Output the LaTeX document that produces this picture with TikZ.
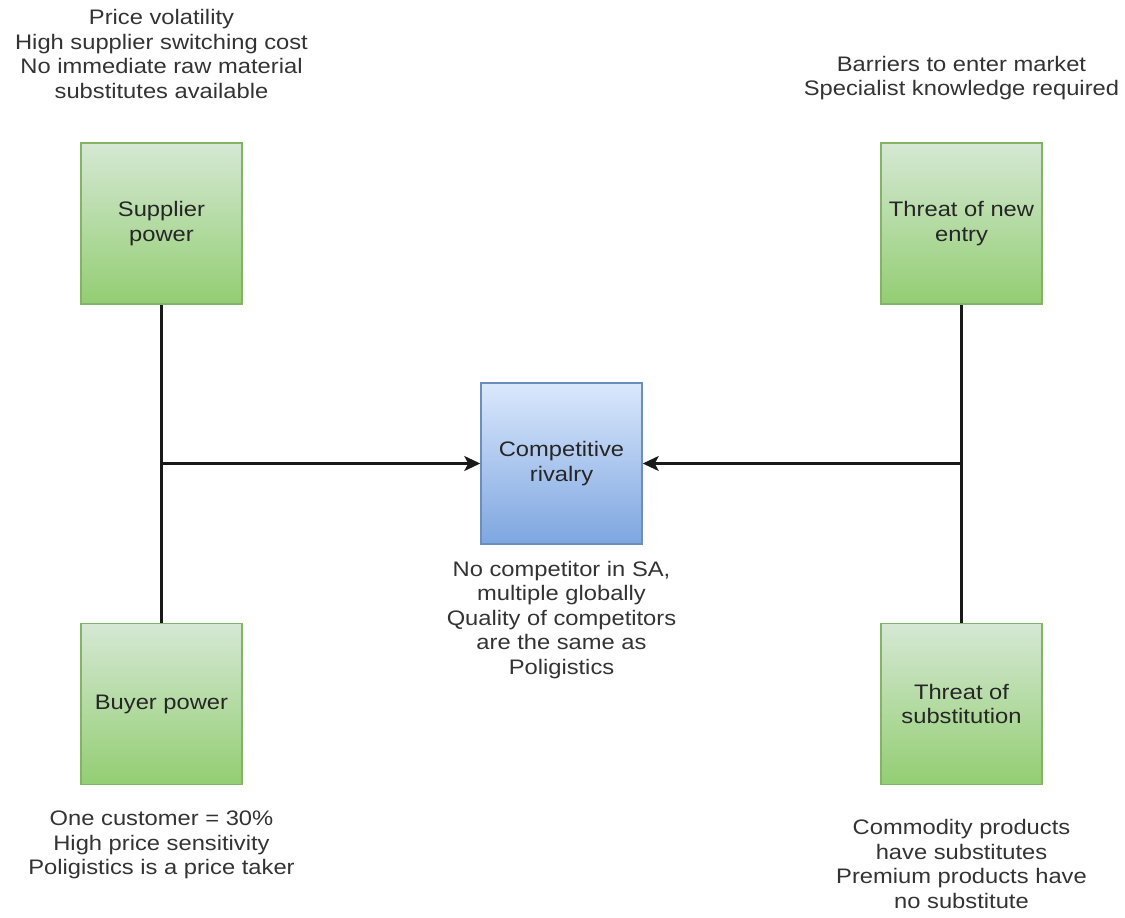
\documentclass[tikz,border=0pt]{standalone}
\usepackage{fontspec}
\setmainfont{Liberation Sans}[FakeStretch=1.13]
\usetikzlibrary{arrows.meta}

\definecolor{greentop}{HTML}{D5E8D4}
\definecolor{greenbot}{HTML}{93CE72}
\definecolor{greenline}{HTML}{82B366}
\definecolor{bluetop}{HTML}{DAE8FC}
\definecolor{bluebot}{HTML}{7EA6E0}
\definecolor{blueline}{HTML}{6C8EBF}
\definecolor{textgrey}{HTML}{333333}

\tikzset{
  basefont/.style={font=\fontsize{21pt}{24.5pt}\selectfont},
  forcebox/.style={basefont, draw=greenline, line width=1.5pt,
    top color=greentop, bottom color=greenbot,
    minimum width=161pt, minimum height=161pt, inner sep=0pt,
    align=center, text=black!85},
  rivalbox/.style={forcebox, draw=blueline,
    top color=bluetop, bottom color=bluebot},
  note/.style={basefont, align=center, text=textgrey, inner sep=0pt},
  link/.style={line width=2.2pt, black!90},
  feed/.style={link, -{Stealth[length=16pt, width=15pt, inset=4pt]}}
}

\begin{document}
\begin{tikzpicture}[x=1pt, y=-1pt]
\useasboundingbox (0,0) rectangle (1125,918);

% the five forces
\node[forcebox] (supplier) at (161.5,223.5) {Supplier\\power};
\node[forcebox] (entry)    at (961.5,223.5) {Threat of new\\entry};
\node[forcebox] (buyer)    at (161.5,704)   {Buyer power};
\node[forcebox] (subst)    at (961.5,704)   {Threat of\\substitution};
\node[rivalbox] (rivalry)  at (561.5,463.5) {Competitive\\rivalry};

% notes on each force
\node[note] (supnote) at (161.5,54) {Price volatility\\High supplier switching cost\\No immediate raw material\\substitutes available};
\node[note] (entnote) at (961.5,78) {Barriers to enter market\\Specialist knowledge required};
\node[note] (rivnote) at (561.5,620) {No competitor in SA,\\multiple globally\\Quality of competitors\\are the same as\\Poligistics};
\node[note] (buynote) at (161.5,845) {One customer = 30\%\\High price sensitivity\\Poligistics is a price taker};
\node[note] (subnote) at (961.5,864) {Commodity products\\have substitutes\\Premium products have\\no substitute};

% connectors
\coordinate (ljoin) at (supplier.south |- rivalry.west);
\coordinate (rjoin) at (entry.south |- rivalry.east);
\draw[link] (supplier.south) -- (buyer.north);
\draw[link] (entry.south) -- (subst.north);
\draw[feed] (ljoin) -- (rivalry.west);
\draw[feed] (rjoin) -- (rivalry.east);
\end{tikzpicture}
\end{document}
